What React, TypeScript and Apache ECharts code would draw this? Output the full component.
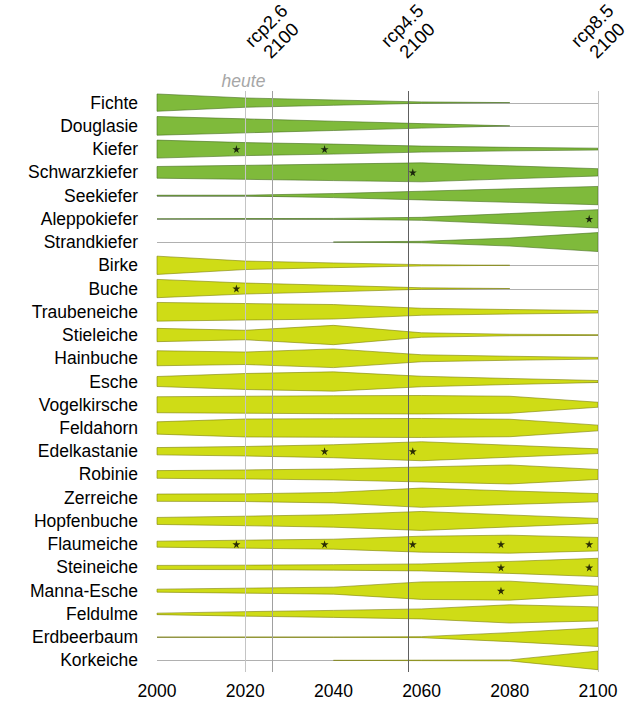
import React, { useEffect, useRef } from "react";
import * as echarts from "echarts";

const SPECIES = [
  "Fichte", "Douglasie", "Kiefer", "Schwarzkiefer", "Seekiefer", "Aleppokiefer", "Strandkiefer",
  "Birke", "Buche", "Traubeneiche", "Stieleiche", "Hainbuche", "Esche", "Vogelkirsche",
  "Feldahorn", "Edelkastanie", "Robinie", "Zerreiche", "Hopfenbuche", "Flaumeiche",
  "Steineiche", "Manna-Esche", "Feldulme", "Erdbeerbaum", "Korkeiche",
];
const CONIFER_COUNT = 7;

const YEARS = [2000, 2020, 2040, 2060, 2080, 2100];
const X_TICKS = [2000, 2020, 2040, 2060, 2080, 2100];

// band thickness per species and year (scale: 23.24 = one full row)
const FICHTE = [17.3, 9.3, 5.3, 1.4, 0, 0];
const DOUGLASIE = [18.7, 14, 9.3, 4.5, 0, 0];
const KIEFER = [18, 13, 10, 6, 3.5, 1.8];
const SCHWARZKIEFER = [11.7, 14, 16.5, 19, 13, 7.3];
const SEEKIEFER = [0.7, 0.8, 4, 8.7, 13.5, 18.3];
const ALEPPOKIEFER = [0, 0.4, 0.8, 3, 10.5, 18.3];
const STRANDKIEFER = [0, 0, 0, 1.5, 8, 19];
const BIRKE = [18.3, 8.5, 4.7, 1.3, 0, 0];
const BUCHE = [18.3, 11, 6.5, 1.5, 0, 0];
const TRAUBENEICHE = [18.7, 16.5, 14.5, 7, 4.5, 2.5];
const STIELEICHE = [13.3, 9.5, 19.3, 4.5, 1.5, 0.7];
const HAINBUCHE = [15, 12.5, 18.7, 7, 4, 1.7];
const ESCHE = [10, 16, 19.3, 10.5, 6, 2];
const VOGELKIRSCHE = [16, 17, 18, 18.5, 17, 5];
const FELDAHORN = [12.3, 18, 18.5, 19, 17.5, 5.7];
const EDELKASTANIE = [7.3, 9.5, 13, 19, 12, 4.7];
const ROBINIE = [7.7, 9, 11, 15, 19, 10];
const ZERREICHE = [7.3, 7.7, 10.5, 19.3, 13.5, 8.3];
const HOPFENBUCHE = [7, 9.5, 12.5, 19, 12, 5];
const FLAUMEICHE = [6, 8, 10, 16, 18, 13.5];
const STEINEICHE = [4, 4.5, 5.5, 7, 12, 18.3];
const MANNA_ESCHE = [3, 5, 7, 17.5, 19, 9];
const FELDULME = [1.5, 4.5, 7, 10, 18.3, 14];
const ERDBEERBAUM = [0, 0.4, 0.3, 1, 9, 18.7];
const KORKEICHE = [0, 0, 0, 0.5, 1, 18.7];

const BANDS = [
  FICHTE, DOUGLASIE, KIEFER, SCHWARZKIEFER, SEEKIEFER, ALEPPOKIEFER, STRANDKIEFER,
  BIRKE, BUCHE, TRAUBENEICHE, STIELEICHE, HAINBUCHE, ESCHE, VOGELKIRSCHE,
  FELDAHORN, EDELKASTANIE, ROBINIE, ZERREICHE, HOPFENBUCHE, FLAUMEICHE,
  STEINEICHE, MANNA_ESCHE, FELDULME, ERDBEERBAUM, KORKEICHE,
];
const ROW_UNIT = 23.24;

// stars: [year, species]
const STARS: [number, string][] = [
  [2018, "Kiefer"], [2038, "Kiefer"],
  [2058, "Schwarzkiefer"],
  [2098, "Aleppokiefer"],
  [2018, "Buche"],
  [2038, "Edelkastanie"], [2058, "Edelkastanie"],
  [2018, "Flaumeiche"], [2038, "Flaumeiche"], [2058, "Flaumeiche"], [2078, "Flaumeiche"], [2098, "Flaumeiche"],
  [2078, "Steineiche"], [2098, "Steineiche"],
  [2078, "Manna-Esche"],
];

// reference lines
const REF_YEARS = [2020, 2026, 2057, 2100];
const REF_LABELS = ["heute", "rcp2.6\n2100", "rcp4.5\n2100", "rcp8.5\n2100"];
const REF_COLORS = ["#c4c4c4", "#a0a0a0", "#606060", "#c4c4c4"];

const FONT = "'Liberation Sans', Arial, Helvetica, sans-serif";
const STAR_PATH =
  "path://M50,0 L61,35 L98,35 L68,57 L79,91 L50,70 L21,91 L32,57 L2,35 L39,35 Z";

export default function App() {
  const ref = useRef<HTMLDivElement>(null);

  useEffect(() => {
    if (!ref.current) return;
    const chart = echarts.init(ref.current, null, { renderer: "svg" });

    const bandData = BANDS.map((vals, i) => [i, ...vals]);

    const option: any = {
      animation: false,
      backgroundColor: "#ffffff",
      grid: { left: 157, right: 33, top: 91, bottom: 33, containLabel: false },
      xAxis: {
        type: "value",
        min: 2000,
        max: 2100,
        interval: 20,
        axisLine: { show: false },
        axisTick: { show: false },
        splitLine: { show: false },
        axisLabel: {
          fontSize: 17.5,
          fontFamily: FONT,
          color: "#000",
          margin: 10,
          formatter: (v: number) => (X_TICKS.includes(v) ? String(v) : ""),
        },
      },
      yAxis: {
        type: "category",
        inverse: true,
        data: SPECIES,
        axisLine: { show: false },
        axisTick: { show: false },
        splitLine: { show: false },
        axisLabel: { interval: 0, fontSize: 17.5, fontFamily: FONT, color: "#000", margin: 19 },
      },
      series: [
        {
          type: "custom",
          z: 1,
          data: SPECIES.map((_, i) => [i]),
          encode: { y: 0 },
          renderItem: (params: any, api: any) => {
            const i = api.value(0);
            const a = api.coord([YEARS[0], i]);
            const b = api.coord([YEARS[YEARS.length - 1], i]);
            return {
              type: "line",
              shape: { x1: a[0], y1: Math.round(a[1]) + 0.5, x2: b[0], y2: Math.round(b[1]) + 0.5 },
              style: { stroke: "#b0b0b0", lineWidth: 1 },
            };
          },
        },
        {
          type: "custom",
          z: 2,
          data: bandData,
          encode: { y: 0 },
          renderItem: (params: any, api: any) => {
            const i = api.value(0);
            const vals = YEARS.map((_, k) => api.value(k + 1) as number);
            const bh = api.size([0, 1])[1];
            const scale = bh / ROW_UNIT;
            const first = vals.findIndex((v) => v > 0);
            let last = -1;
            vals.forEach((v, k) => { if (v > 0) last = k; });
            if (first < 0) return null;
            const s = Math.max(0, first - 1);
            const e = Math.min(vals.length - 1, last + 1);
            const top: number[][] = [];
            const bot: number[][] = [];
            for (let k = s; k <= e; k++) {
              const p = api.coord([YEARS[k], i]);
              const h = (vals[k] * scale) / 2;
              top.push([p[0], p[1] - h]);
              bot.unshift([p[0], p[1] + h]);
            }
            const conifer = i < CONIFER_COUNT;
            return {
              type: "polygon",
              shape: { points: top.concat(bot) },
              style: {
                fill: conifer ? "#7fba3b" : "#cfdc16",
                stroke: conifer ? "rgba(70,110,30,0.75)" : "rgba(125,130,10,0.75)",
                lineWidth: 0.8,
              },
            };
          },
        },
        {
          type: "custom",
          z: 3,
          data: REF_YEARS.map((y, k) => [y, k]),
          encode: { x: 0 },
          renderItem: (params: any, api: any) => {
            const k = api.value(1);
            const x = Math.round(api.coord([api.value(0), 0])[0]) + 0.5;
            const cs = params.coordSys;
            const children: any[] = [
              {
                type: "line",
                shape: { x1: x, y1: cs.y, x2: x, y2: cs.y + cs.height },
                style: { stroke: REF_COLORS[k], lineWidth: 1 },
              },
            ];
            if (k === 0) {
              children.push({
                type: "text",
                x: x - 2,
                y: cs.y - 10,
                style: {
                  text: REF_LABELS[k],
                  fill: "#a6a6a6",
                  fontSize: 17.5,
                  fontStyle: "italic",
                  fontFamily: FONT,
                  align: "center",
                  verticalAlign: "middle",
                },
              });
            } else {
              children.push({
                type: "text",
                x: x + 1,
                y: cs.y - 58,
                rotation: Math.PI / 4,
                style: {
                  text: REF_LABELS[k],
                  fill: "#000",
                  fontSize: 18.5,
                  fontFamily: FONT,
                  lineHeight: 21,
                  align: "center",
                  verticalAlign: "middle",
                },
              });
            }
            return { type: "group", children };
          },
        },
        {
          type: "scatter",
          z: 4,
          symbol: STAR_PATH,
          symbolSize: 8,
          itemStyle: { color: "#000" },
          data: STARS,
        },
      ],
    };

    chart.setOption(option);
    return () => chart.dispose();
  }, []);

  return (
    <div
      ref={ref}
      style={{ position: "absolute", left: 0, top: 0, width: 631, height: 705 }}
    />
  );
}
